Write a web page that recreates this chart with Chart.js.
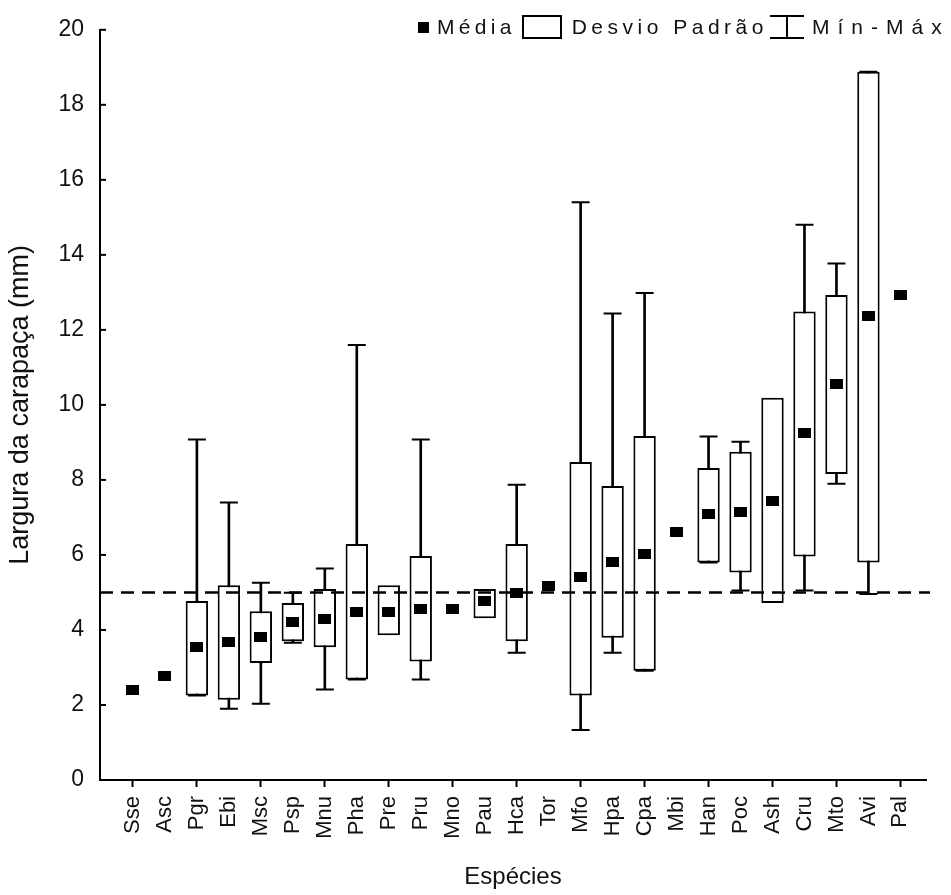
<!DOCTYPE html>
<html>
<head>
<meta charset="utf-8">
<script src="https://cdn.jsdelivr.net/npm/chart.js@4.4.1/dist/chart.umd.min.js"></script>
<style>
  body { margin: 0; background: #fff; }
  #wrap { position: relative; width: 951px; height: 895px; }
  #legend {
    position: absolute; top: 15px; left: 418px;
    display: flex; align-items: center;
    font: 21px "Liberation Sans", Arial, sans-serif; color: #111;
    white-space: nowrap;
  }
  .t1 { letter-spacing: 4.3px; }
  .t2 { letter-spacing: 4.5px; }
  .t3 { letter-spacing: 8px; }
  .sq { width: 11px; height: 11px; background: #000; margin-right: 8px; }
  .bx { width: 36px; height: 20px; border: 2px solid #000; margin: 0 10px 0 6px; }
  .wh { position: relative; width: 34px; height: 24px; margin: 0 8px 0 2px; }
  .wh:before { content: ""; position: absolute; left: 0; right: 0; top: 0; bottom: 0;
    border-top: 2px solid #000; border-bottom: 2px solid #000; }
  .wh:after { content: ""; position: absolute; left: 16px; width: 2px; top: 0; bottom: 0; background: #000; }
</style>
</head>
<body>
<div id="wrap">
  <canvas id="boxChart" width="951" height="895"></canvas>
  <div id="legend">
    <span class="sq"></span><span class="t1">Média</span>
    <span class="bx"></span><span class="t2">Desvio Padrão</span>
    <span class="wh"></span><span class="t3">Mín-Máx</span>
  </div>
</div>
<script>
const species = ['Sse', 'Asc', 'Pgr', 'Ebi', 'Msc', 'Psp', 'Mnu', 'Pha', 'Pre', 'Pru', 'Mno', 'Pau', 'Hca',
   'Tor', 'Mfo', 'Hpa', 'Cpa', 'Mbi', 'Han', 'Poc', 'Ash', 'Cru', 'Mto', 'Avi', 'Pal'];

const means = [2.40, 2.76, 3.54, 3.68, 3.80, 4.22, 4.28, 4.48, 4.48, 4.57, 4.57, 4.78, 4.98,
   5.18, 5.41, 5.82, 6.03, 6.60, 7.08, 7.15, 7.43, 9.24, 10.56, 12.36, 12.92];

const sdLow = [null, null, 2.25, 2.14, 3.12, 3.70, 3.54, 2.68, 3.86, 3.16, null, 4.31, 3.70,
   null, 2.25, 3.79, 2.91, null, 5.80, 5.53, 4.72, 5.96, 8.16, 5.80, null];
const sdHigh = [null, null, 4.77, 5.19, 4.50, 4.72, 5.09, 6.29, 5.19, 5.97, null, 5.09, 6.29,
   null, 8.48, 7.84, 9.17, null, 8.32, 8.75, 10.19, 12.49, 12.93, 18.88, null];

const minVals = [null, null, 2.25, 1.90, 2.03, 3.66, 2.41, 2.68, null, 2.68, null, null, 3.39,
   null, 1.33, 3.39, 2.91, null, 5.80, 5.05, null, 5.05, 7.90, 4.96, null];
const maxVals = [null, null, 9.08, 7.40, 5.26, 4.99, 5.64, 11.60, null, 9.08, null, null, 7.87,
   null, 15.40, 12.44, 12.98, null, 9.16, 9.02, null, 14.80, 13.77, 18.88, null];

const yTicks = [0, 2, 4, 6, 8, 10, 12, 14, 16, 18, 20];
const refLine = 5;

const FONT = '"Liberation Sans", Arial, sans-serif';

// mean marker: small black rectangle
const meanMark = document.createElement('canvas');
meanMark.width = 13; meanMark.height = 10;
meanMark.getContext('2d').fillRect(0, 0, 13, 10);

const boxData = [], whiskerData = [], capData = [], meanData = [];
species.forEach((s, i) => {
   meanData.push({ x: i, y: means[i] });
   if (sdLow[i] !== null) boxData.push({ x: i, y: [sdLow[i], sdHigh[i]] });
   if (minVals[i] !== null) {
      whiskerData.push({ x: i, y: [minVals[i], maxVals[i]] });
      capData.push({ x: i, y: minVals[i] }, { x: i, y: maxVals[i] });
   }
});

const refLinePlugin = {
   id: 'refLine',
   afterDatasetsDraw(chart) {
      const { ctx, chartArea } = chart;
      const y = chart.scales.y.getPixelForValue(refLine);
      ctx.save();
      ctx.strokeStyle = '#000';
      ctx.lineWidth = 2.5;
      ctx.setLineDash([13, 8]);
      ctx.beginPath();
      ctx.moveTo(chartArea.left, y);
      ctx.lineTo(chartArea.right + 4, y);
      ctx.stroke();
      ctx.restore();
   }
};

// y ticks point inward like the original
const innerTicks = {
   id: 'innerTicks',
   afterDraw(chart) {
      const { ctx } = chart;
      const sc = chart.scales.y;
      ctx.save();
      ctx.strokeStyle = '#000';
      ctx.lineWidth = 2;
      sc.ticks.forEach(t => {
         const y = sc.getPixelForValue(t.value);
         ctx.beginPath();
         ctx.moveTo(sc.right, y);
         ctx.lineTo(sc.right + 6, y);
         ctx.stroke();
      });
      ctx.restore();
   }
};

new Chart(document.getElementById('boxChart'), {
   data: {
      datasets: [
         {
            type: 'scatter', label: 'Média', data: meanData, order: 0,
            pointStyle: meanMark, pointRadius: 6
         },
         {
            type: 'bar', label: 'Desvio Padrão', data: boxData, order: 1,
            backgroundColor: '#fff', borderColor: '#000', borderWidth: 2, borderSkipped: false,
            barPercentage: 0.7, categoryPercentage: 1, grouped: false
         },
         {
            type: 'bar', label: 'Mín-Máx', data: whiskerData, order: 2,
            backgroundColor: '#000', borderWidth: 0, barThickness: 2, grouped: false
         },
         {
            type: 'scatter', label: 'caps', data: capData, order: 2,
            pointStyle: 'line', pointRadius: 9, borderColor: '#000', borderWidth: 2
         }
      ]
   },
   options: {
      responsive: false,
      animation: false,
      devicePixelRatio: 1,
      layout: { padding: { top: 26, right: 25, bottom: 0, left: 0 } },
      plugins: { legend: { display: false }, tooltip: { enabled: false } },
      scales: {
         x: {
            type: 'linear', min: -1.03, max: 24.8, offset: false,
            afterBuildTicks: sc => { sc.ticks = species.map((s, i) => ({ value: i })); },
            afterFit: sc => { sc.height = 115; },
            ticks: {
               autoSkip: false, minRotation: 90, maxRotation: 90, padding: 9, color: '#111',
               font: { family: FONT, size: 22 },
               callback: v => species[v]
            },
            grid: {
               offset: false, drawOnChartArea: false, tickLength: 7, tickWidth: 2,
               tickColor: c => (c.index % 2 === 0 ? '#000' : 'rgba(0,0,0,0)')
            },
            border: { display: true, color: '#000', width: 2 },
            title: {
               display: true, text: 'Espécies', color: '#111',
               font: { family: FONT, size: 24 }, padding: { top: 0, bottom: 3 }
            }
         },
         y: {
            min: 0, max: 20,
            afterBuildTicks: sc => { sc.ticks = yTicks.map(v => ({ value: v })); },
            afterFit: sc => { sc.width = 100; },
            ticks: { padding: 16, color: '#111', font: { family: FONT, size: 23 } },
            grid: { drawOnChartArea: false, drawTicks: false },
            border: { display: true, color: '#000', width: 2 },
            title: {
               display: true, text: 'Largura da carapaça (mm)', color: '#111',
               font: { family: FONT, size: 27 }, padding: { top: 4, bottom: 0 }
            }
         }
      }
   },
   plugins: [refLinePlugin, innerTicks]
});
</script>
</body>
</html>
